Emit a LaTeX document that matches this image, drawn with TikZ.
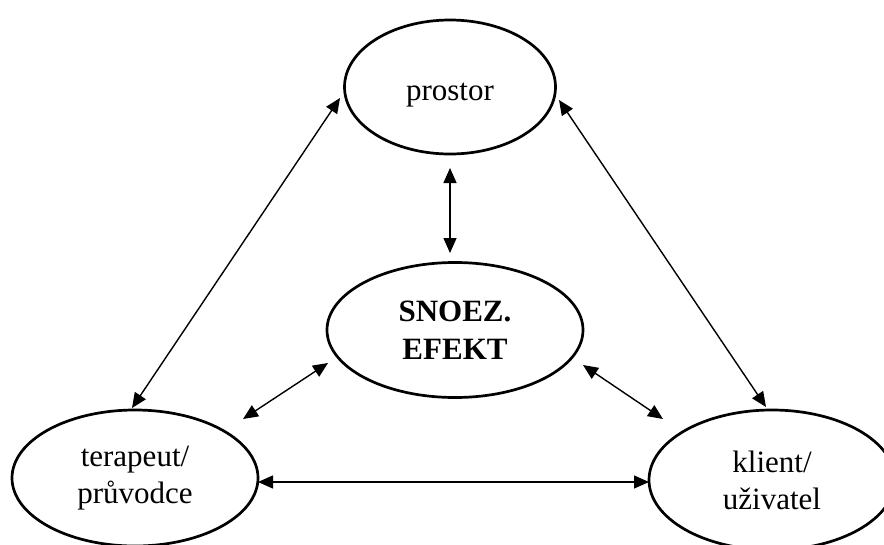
\documentclass[tikz,border=0pt]{standalone}
\usepackage{fontspec}
\setmainfont{Liberation Serif}
\usetikzlibrary{shapes.geometric,arrows.meta}
\begin{document}
\begin{tikzpicture}[x=1pt,y=-1pt,
  oval/.style={draw, ellipse, line width=2.7pt, inner sep=0pt, font=\fontsize{31}{37}\selectfont, align=center},
  link/.style={line width=1.4pt, {Triangle[length=15pt,width=13pt]}-{Triangle[length=15pt,width=13pt]}}]
\useasboundingbox (0,0) rectangle (884,544);
\node[oval, minimum width=211pt, minimum height=134pt, text height=34pt, text depth=8pt] (pros) at (450,87) {prostor};
\node[oval, minimum width=256pt, minimum height=135pt, font=\fontsize{31}{38}\selectfont\bfseries] (snoe) at (455,330) {SNOEZ.\\EFEKT};
\node[oval, minimum width=246pt, minimum height=136pt] (tera) at (135,478) {terapeut/\\průvodce};
\node[oval, minimum width=246pt, minimum height=140pt] (klie) at (772,480) {klient/\\uživatel};
\coordinate (p1) at (340,98);  \coordinate (t1) at (132,408);
\coordinate (p2) at (559,100); \coordinate (k1) at (766,407);
\coordinate (p3) at (450,168); \coordinate (s1) at (450,253);
\coordinate (s2) at (328,363); \coordinate (t2) at (243,419);
\coordinate (s3) at (583,365); \coordinate (k2) at (663,419);
\coordinate (t3) at (258,482); \coordinate (k3) at (649,482);
\draw[link] (p1) -- (t1);
\draw[link] (p2) -- (k1);
\draw[link] (p3) -- (s1);
\draw[link] (s2) -- (t2);
\draw[link] (s3) -- (k2);
\draw[link] (t3) -- (k3);
\end{tikzpicture}
\end{document}
